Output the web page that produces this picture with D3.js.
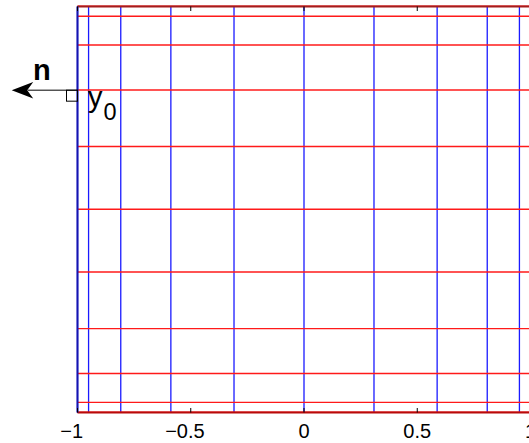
<!DOCTYPE html>
<html>
<head>
<meta charset="utf-8">
<script src="https://cdn.jsdelivr.net/npm/d3@7/dist/d3.min.js"></script>
<style>
  html, body { margin: 0; padding: 0; background: #fff; overflow: hidden; }
  svg { display: block; font-family: "Liberation Sans", Arial, sans-serif; }
</style>
</head>
<body>
<svg id="chart" width="529" height="443"></svg>
<script>
// Chebyshev nodes (N = 10) along x, drawn as blue vertical lines
const xNodes = [-1, -0.9511, -0.8090, -0.5878, -0.3090, 0, 0.3090, 0.5878, 0.8090, 0.9511, 1];
// Chebyshev nodes (N = 10) along y, drawn as red horizontal lines
const yNodes = [-1, -0.9511, -0.8090, -0.5878, -0.3090, 0, 0.3090, 0.5878, 0.8090, 0.9511, 1];
// Bottom axis ticks
const xTicks = [-1, -0.5, 0, 0.5, 1];
// Boundary point where the outward normal is marked
const y0Value = 0.5878;

const svg = d3.select("#chart");
const x = d3.scaleLinear().domain([-1, 1]).range([77.5, 530.5]);
const y = d3.scaleLinear().domain([-1, 1]).range([412.5, 6.5]);

// vertical grid (blue)
svg.append("g").selectAll("line").data(xNodes).join("line")
  .attr("x1", d => x(d)).attr("x2", d => x(d))
  .attr("y1", y(-1)).attr("y2", y(1))
  .attr("stroke", "#1a1aff").attr("stroke-width", 1.3);

// horizontal grid (red)
svg.append("g").selectAll("line").data(yNodes).join("line")
  .attr("x1", x(-1)).attr("x2", x(1))
  .attr("y1", d => y(d) - 0.2).attr("y2", d => y(d) - 0.2)
  .attr("stroke", "#ff1a1a").attr("stroke-width", 1.4);

// axes box edges, blended with the boundary grid lines
svg.append("line").attr("x1", x(-1)).attr("x2", x(1)).attr("y1", y(1)).attr("y2", y(1))
  .attr("stroke", "#a51c1c").attr("stroke-width", 2);
svg.append("line").attr("x1", x(-1)).attr("x2", x(1)).attr("y1", y(-1)).attr("y2", y(-1))
  .attr("stroke", "#b80a0a").attr("stroke-width", 2);
svg.append("line").attr("x1", x(-1)).attr("x2", x(-1)).attr("y1", y(1)).attr("y2", y(-1))
  .attr("stroke", "#1414b0").attr("stroke-width", 2);

// tick marks (inward, bottom and top)
const tickLen = 4.5;
svg.append("g").selectAll("line").data(xTicks).join("line")
  .attr("x1", d => x(d)).attr("x2", d => x(d))
  .attr("y1", y(-1)).attr("y2", y(-1) - tickLen)
  .attr("stroke", "#000").attr("stroke-width", 1);
svg.append("g").selectAll("line").data(xTicks).join("line")
  .attr("x1", d => x(d)).attr("x2", d => x(d))
  .attr("y1", y(1)).attr("y2", y(1) + tickLen)
  .attr("stroke", "#000").attr("stroke-width", 1);

// tick labels: the digits are centred on the tick, the minus sign hangs left
const fmt = d => (d < 0 ? "\u2212" : "") + String(Math.abs(d));
const labels = svg.append("g").attr("font-size", 20).attr("fill", "#000");
const minusProbe = labels.append("text").text("\u2212");
const minusW = minusProbe.node().getComputedTextLength();
minusProbe.remove();
labels.selectAll("text").data(xTicks).join("text")
  .attr("x", d => x(d))
  .attr("dx", d => d < 0 ? -minusW / 2 : 0)
  .attr("y", y(-1) + 25.5)
  .attr("text-anchor", "middle")
  .text(fmt);

// outward normal arrow at y0 on the left boundary
const ay = y(y0Value);
const ax0 = x(-1);
const tipX = 11.7;
svg.append("line").attr("x1", ax0).attr("x2", tipX + 16).attr("y1", ay).attr("y2", ay)
  .attr("stroke", "#000").attr("stroke-width", 1);
svg.append("path")
  .attr("d", `M${tipX},${ay} L${tipX + 21.5},${ay - 8.2} L${tipX + 15.5},${ay} L${tipX + 21.5},${ay + 8.2} Z`)
  .attr("fill", "#000");

// right-angle marker
svg.append("rect").attr("x", ax0 - 11).attr("y", ay).attr("width", 11).attr("height", 11)
  .attr("fill", "none").attr("stroke", "#000").attr("stroke-width", 1);

// labels
svg.append("text").attr("x", 33).attr("y", 80)
  .attr("font-size", 29).attr("font-weight", "bold").text("n");
const yl = svg.append("text").attr("x", 88).attr("y", 107).attr("font-size", 29);
yl.append("tspan").text("y");
yl.append("tspan").attr("font-size", 23.5).attr("dy", 13).attr("dx", 1).text("0");
</script>
</body>
</html>
